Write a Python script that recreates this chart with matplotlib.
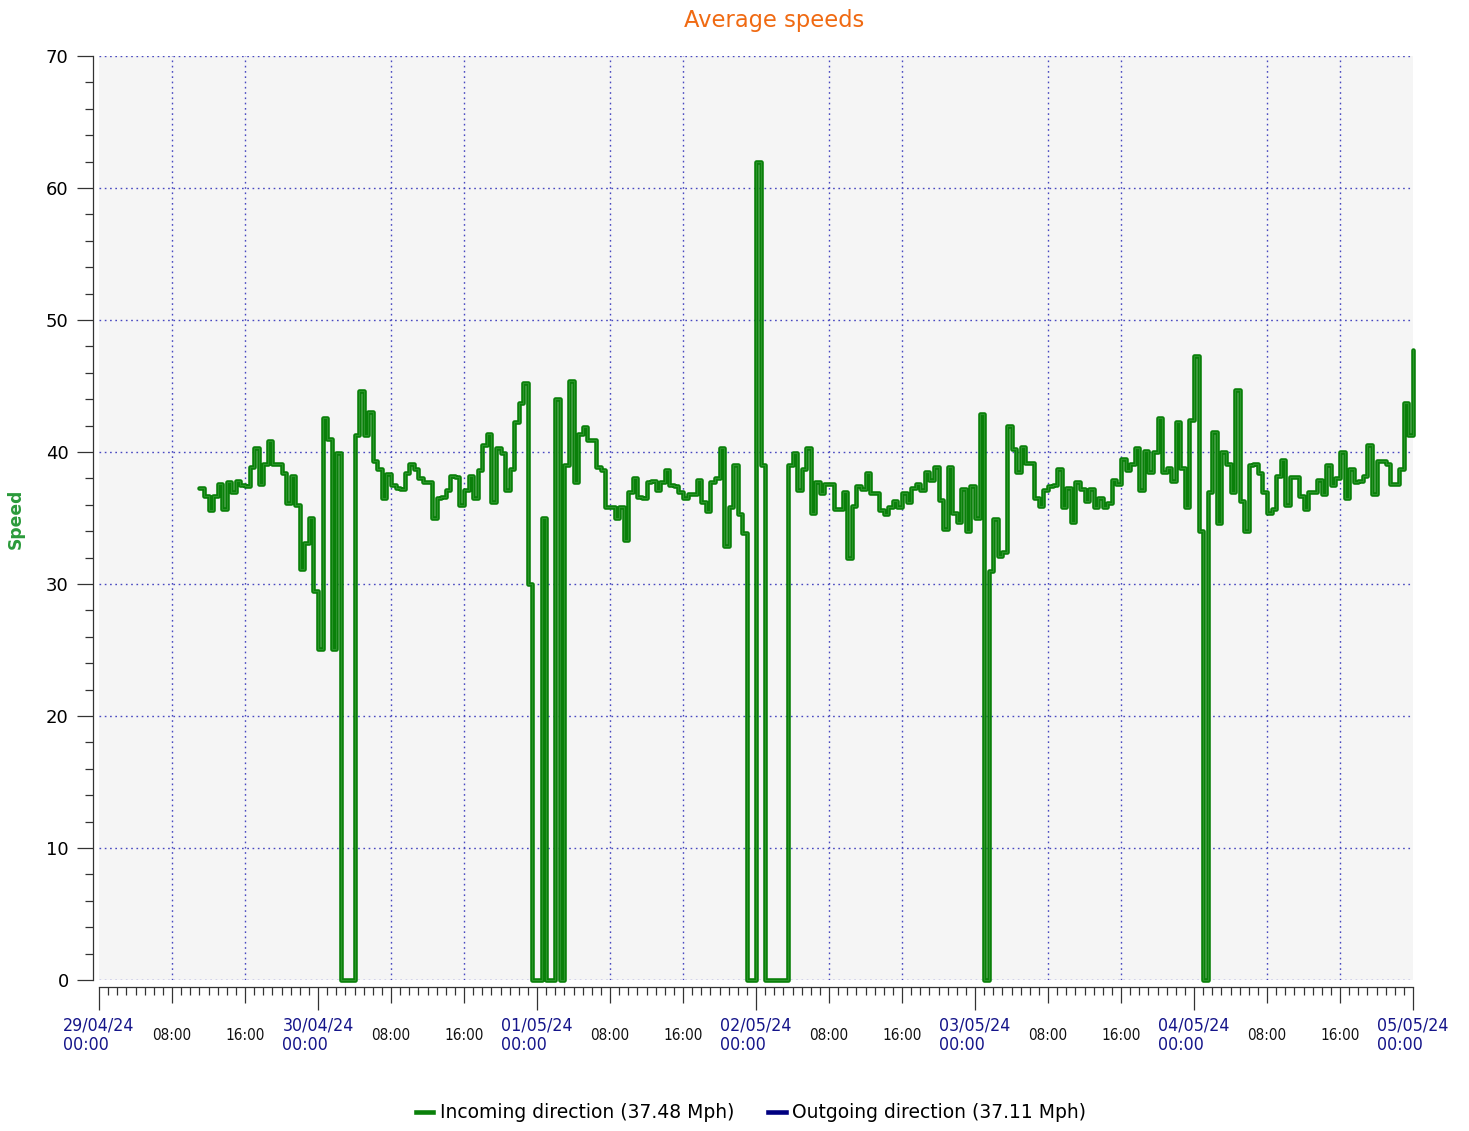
import matplotlib
matplotlib.use('Agg')
import matplotlib.pyplot as plt
import matplotlib.dates as mdates
from matplotlib.ticker import MultipleLocator
from matplotlib.lines import Line2D
from matplotlib import font_manager
import pandas as pd

# ---------------- data ----------------
start_time = '2024-04-29 11:00'
sample_step = '30min'
x_start = '2024-04-29 00:00'
x_end = '2024-05-05 00:00'

incoming_speed = [
    37.3, 36.7, 35.6, 36.7, 37.6, 35.7, 37.7, 37.0,
    37.8, 37.5, 37.4, 38.9, 40.3, 37.6, 39.1, 40.8,
    39.1, 39.1, 38.4, 36.1, 38.2, 36.0, 31.1, 33.1,
    35.0, 29.5, 25.1, 42.6, 41.0, 25.1, 39.9, 0.0,
    0.0, 0.0, 41.3, 44.6, 41.3, 43.0, 39.3, 38.7,
    36.5, 38.3, 37.5, 37.3, 37.2, 38.4, 39.1, 38.7,
    38.0, 37.7, 37.7, 35.0, 36.5, 36.6, 37.1, 38.2,
    38.1, 36.0, 37.1, 38.2, 36.5, 38.6, 40.5, 41.4,
    36.2, 40.3, 39.9, 37.1, 38.7, 42.3, 43.7, 45.2,
    30.0, 0.0, 0.0, 35.0, 0.0, 0.0, 44.0, 0.0,
    39.0, 45.4, 37.7, 41.4, 41.9, 40.9, 40.9, 38.9,
    38.6, 35.8, 35.8, 35.0, 35.8, 33.3, 37.0, 38.0,
    36.6, 36.5, 37.7, 37.8, 37.1, 37.7, 38.6, 37.5,
    37.4, 37.0, 36.5, 36.8, 36.8, 37.9, 36.2, 35.5,
    37.7, 38.0, 40.3, 32.9, 35.8, 39.0, 35.3, 33.9,
    0.0, 0.0, 62.0, 39.0, 0.0, 0.0, 0.0, 0.0,
    0.0, 39.0, 39.9, 37.1, 38.7, 40.3, 35.4, 37.7,
    36.9, 37.6, 37.6, 35.7, 35.7, 37.0, 32.0, 35.9,
    37.4, 37.2, 38.4, 36.9, 36.9, 35.6, 35.3, 35.8,
    36.3, 35.8, 36.9, 36.2, 37.3, 37.6, 37.1, 38.5,
    37.9, 38.9, 36.4, 34.2, 38.9, 35.4, 34.7, 37.2,
    34.0, 37.4, 35.0, 42.9, 0.0, 31.0, 34.9, 32.1,
    32.4, 42.0, 40.2, 38.5, 40.4, 39.2, 39.2, 36.5,
    35.9, 37.1, 37.4, 37.5, 38.7, 35.8, 37.3, 34.7,
    37.7, 37.2, 36.3, 37.2, 35.8, 36.5, 35.8, 36.1,
    37.9, 37.6, 39.5, 38.6, 39.1, 40.3, 37.1, 40.1,
    38.5, 40.0, 42.6, 38.5, 38.8, 37.8, 42.3, 38.8,
    35.8, 42.4, 47.3, 34.0, 0.0, 37.0, 41.5, 34.6,
    40.0, 39.1, 37.0, 44.7, 36.3, 34.0, 39.0, 39.1,
    38.4, 37.0, 35.4, 35.7, 38.2, 39.4, 36.0, 38.1,
    38.1, 36.7, 35.7, 37.0, 37.0, 37.9, 36.8, 39.0,
    37.5, 38.0, 40.0, 36.5, 38.7, 37.7, 37.8, 38.2,
    40.5, 36.8, 39.3, 39.3, 39.1, 37.6, 37.6, 38.7,
    43.7, 41.3, 47.7,
]

y_ticks = [0, 10, 20, 30, 40, 50, 60, 70]
title_text = 'Average speeds'
ylabel_text = 'Speed'
legend_labels = ['Incoming direction (37.48 Mph)', 'Outgoing direction (37.11 Mph)']

# ---------------- style ----------------
GREEN = '#0a800a'
GREEN_IN = '#4aa84a'
NAVY = '#000080'
DAYBLUE = '#15158a'
GRID = '#4848c0'
AXC = '#333333'

fonts = font_manager.fontManager.ttflist
names = {f.name for f in fonts}
has_dv_cond = any(f.name == 'DejaVu Sans' and f.stretch == 'condensed' for f in fonts)
if 'Liberation Sans Narrow' in names:
    tick_font = dict(family='Liberation Sans Narrow')
    day_size, hour_size = 15.5, 12.5
elif has_dv_cond:
    tick_font = dict(family='DejaVu Sans', fontstretch='condensed')
    day_size, hour_size = 12.8, 11.0
else:
    tick_font = dict(family='DejaVu Sans')
    day_size, hour_size = 12.2, 10.3

W, H = 1469, 1131
fig = plt.figure(figsize=(W / 100, H / 100), dpi=100)
ax = fig.add_axes([99 / W, 1 - 980 / H, (1413 - 99) / W, (980 - 56) / H])
ax.set_facecolor('#f5f5f5')

times = pd.date_range(start_time, periods=len(incoming_speed), freq=sample_step)
ax.step(times, incoming_speed, where='post', color=GREEN, lw=3.3,
        clip_on=False, zorder=3, solid_joinstyle='round', solid_capstyle='round')
ax.step(times, incoming_speed, where='post', color=GREEN_IN, lw=0.6,
        clip_on=False, zorder=4, alpha=0.6)

ax.set_xlim(pd.Timestamp(x_start), pd.Timestamp(x_end))
ax.set_ylim(y_ticks[0], y_ticks[-1])

for s in ['top', 'right']:
    ax.spines[s].set_visible(False)
ax.spines['left'].set_position(('outward', 4.3))
ax.spines['bottom'].set_position(('outward', 5.0))
for s in ['left', 'bottom']:
    ax.spines[s].set_color(AXC)
    ax.spines[s].set_linewidth(0.9)

# y axis
ax.set_yticks(y_ticks)
ax.yaxis.set_minor_locator(MultipleLocator(2))
ax.tick_params(axis='y', which='major', length=11.5, width=0.9, pad=6,
               labelsize=13, color=AXC)
ax.tick_params(axis='y', which='minor', length=5.5, width=0.9, color=AXC)
ax.yaxis.grid(True, which='major', color=GRID, linestyle=(0, (1.2, 2.6)), lw=1.0)

# x axis
major_locs = pd.date_range(x_start, x_end, freq='8h')
ax.set_xticks(major_locs)
ax.set_xticklabels([''] * len(major_locs))
ax.xaxis.set_minor_locator(mdates.HourLocator())
ax.tick_params(axis='x', which='major', length=11.5, width=0.9, color=AXC)
ax.tick_params(axis='x', which='minor', length=5.5, width=0.9, color=AXC)
ax.xaxis.grid(True, which='major', color=GRID, linestyle=(0, (1.2, 2.6)), lw=1.0)
ax.set_axisbelow(True)

label_y = -(1035 - 980) / 924
xt = ax.get_xaxis_transform()
for tick, t in zip(ax.xaxis.get_major_ticks(), major_locs):
    if t.hour == 0:
        tick.tick1line.set_markersize(16.5)
        tick.gridline.set_visible(False)
        ax.text(t, label_y, t.strftime('%d/%m/%y\n%H:%M'), transform=xt,
                ha='center', va='center', multialignment='left',
                color=DAYBLUE, fontsize=day_size, linespacing=1.1, **tick_font)
    else:
        ax.text(t, label_y, t.strftime('%H:%M'), transform=xt,
                ha='center', va='center', color='#111111',
                fontsize=hour_size, **tick_font)

# titles
fig.text(774 / W, 1 - 21 / H, title_text, ha='center', va='center',
         color='#f06a12', fontsize=16.3)
fig.text(16 / W, 1 - 519 / H, ylabel_text, rotation=90, ha='center',
         va='center', color='#2a9a3a', fontsize=12.3, fontweight='bold')

handles = [Line2D([], [], color=GREEN, lw=3.3),
           Line2D([], [], color=NAVY, lw=3.3)]
fig.legend(handles, legend_labels, loc='center', bbox_to_anchor=(751 / W, 1 - 1113 / H),
           ncol=2, frameon=False, fontsize=13.5, handlelength=0.95,
           handletextpad=0.35, columnspacing=1.8, borderaxespad=0, borderpad=0)

fig.savefig('out.png', dpi=100)
